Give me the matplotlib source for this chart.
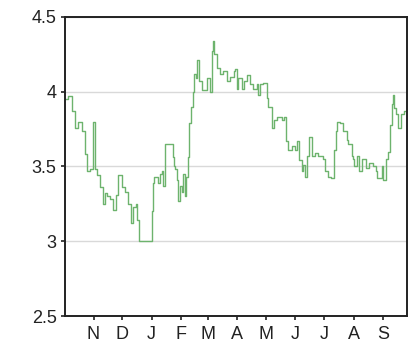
import matplotlib
matplotlib.use("Agg")
import matplotlib.pyplot as plt
import matplotlib.dates as mdates
import pandas as pd

plt.rcParams["font.family"] = ["Liberation Sans", "DejaVu Sans"]

dates = [
    "2014-10-02", "2014-10-05", "2014-10-09", "2014-10-13", "2014-10-16", "2014-10-20",
    "2014-10-23", "2014-10-25", "2014-10-28", "2014-10-31", "2014-11-03", "2014-11-05",
    "2014-11-08", "2014-11-11", "2014-11-13", "2014-11-15", "2014-11-18", "2014-11-21",
    "2014-11-25", "2014-11-27", "2014-12-01", "2014-12-04", "2014-12-07", "2014-12-10",
    "2014-12-12", "2014-12-16", "2014-12-17", "2014-12-19", "2015-01-01", "2015-01-02",
    "2015-01-03", "2015-01-08", "2015-01-10", "2015-01-12", "2015-01-13", "2015-01-15",
    "2015-01-23", "2015-01-24", "2015-01-26", "2015-01-28", "2015-01-29", "2015-01-31",
    "2015-02-02", "2015-02-03", "2015-02-05", "2015-02-06", "2015-02-08", "2015-02-09",
    "2015-02-11", "2015-02-13", "2015-02-14", "2015-02-17", "2015-02-18", "2015-02-20",
    "2015-02-23", "2015-02-28", "2015-03-03", "2015-03-05", "2015-03-06", "2015-03-08",
    "2015-03-11", "2015-03-14", "2015-03-17", "2015-03-21", "2015-03-24", "2015-03-28",
    "2015-03-30", "2015-04-01", "2015-04-02", "2015-04-06", "2015-04-08", "2015-04-11",
    "2015-04-14", "2015-04-17", "2015-04-22", "2015-04-23", "2015-04-25", "2015-04-28",
    "2015-05-02", "2015-05-03", "2015-05-07", "2015-05-10", "2015-05-13", "2015-05-18",
    "2015-05-20", "2015-05-22", "2015-05-24", "2015-05-28", "2015-06-01", "2015-06-03",
    "2015-06-05", "2015-06-08", "2015-06-09", "2015-06-11", "2015-06-13", "2015-06-15",
    "2015-06-18", "2015-06-22", "2015-06-25", "2015-06-27", "2015-06-30", "2015-07-02",
    "2015-07-05", "2015-07-08", "2015-07-11", "2015-07-12", "2015-07-14", "2015-07-15",
    "2015-07-18", "2015-07-21", "2015-07-25", "2015-07-26", "2015-07-30", "2015-07-31",
    "2015-08-02", "2015-08-05", "2015-08-07", "2015-08-10", "2015-08-14", "2015-08-17",
    "2015-08-21", "2015-08-25", "2015-08-26", "2015-08-31", "2015-09-01", "2015-09-04",
    "2015-09-06", "2015-09-08", "2015-09-10", "2015-09-11", "2015-09-13", "2015-09-15",
    "2015-09-17", "2015-09-20", "2015-09-23", "2015-09-26",
]
values = [
    3.95, 3.97, 3.87, 3.76, 3.80, 3.74,
    3.58, 3.47, 3.48, 3.80, 3.48, 3.44,
    3.36, 3.25, 3.32, 3.30, 3.28, 3.21,
    3.31, 3.44, 3.36, 3.33, 3.25, 3.12,
    3.23, 3.25, 3.14, 3.00, 3.20, 3.39,
    3.43, 3.39, 3.45, 3.47, 3.37, 3.65,
    3.56, 3.50, 3.48, 3.41, 3.27, 3.37,
    3.33, 3.45, 3.30, 3.43, 3.56, 3.79,
    3.90, 4.00, 4.12, 4.09, 4.21, 4.07,
    4.01, 4.09, 4.00, 4.27, 4.34, 4.25,
    4.16, 4.12, 4.14, 4.07, 4.10, 4.14,
    4.15, 4.02, 4.09, 4.02, 4.07, 4.11,
    4.05, 4.02, 4.05, 3.98, 4.05, 4.06,
    3.96, 3.90, 3.76, 3.81, 3.83, 3.81,
    3.83, 3.67, 3.61, 3.64, 3.61, 3.67,
    3.54, 3.47, 3.51, 3.43, 3.57, 3.70,
    3.57, 3.59, 3.57, 3.57, 3.55, 3.47,
    3.43, 3.42, 3.50, 3.61, 3.74, 3.80,
    3.79, 3.74, 3.68, 3.65, 3.57, 3.55,
    3.50, 3.57, 3.47, 3.55, 3.49, 3.52,
    3.50, 3.47, 3.42, 3.50, 3.41, 3.55,
    3.60, 3.78, 3.92, 3.98, 3.89, 3.85,
    3.76, 3.85, 3.87, 3.85,
]
y_ticks = [2.5, 3, 3.5, 4, 4.5]
y_labels = ["2.5", "3", "3.5", "4", "4.5"]

x = pd.to_datetime(dates)

fig = plt.figure(figsize=(4.19, 3.45), dpi=100)
ax = fig.add_axes([0.155, 0.084, 0.816, 0.867])

ax.step(x, values, where="post", color="#6db36d", linewidth=1.0)

ax.set_xlim(x[0], x[-1])
ax.set_ylim(2.5, 4.5)
ax.set_yticks(y_ticks)
ax.set_yticklabels(y_labels)
ax.grid(axis="y", color="#d9d9d9", linewidth=1.0)
ax.set_axisbelow(True)

ax.xaxis.set_major_locator(mdates.MonthLocator())
ax.set_xticklabels([d.strftime("%b")[0] for d in mdates.num2date(ax.get_xticks())])

for s in ax.spines.values():
    s.set_linewidth(1.4)
    s.set_color("#222222")
ax.tick_params(axis="both", direction="out", length=3, width=1.2, labelsize=13, colors="#222222")
ax.tick_params(axis="y", pad=3)
ax.tick_params(axis="x", pad=4)

plt.savefig("out.png")
plt.close()
